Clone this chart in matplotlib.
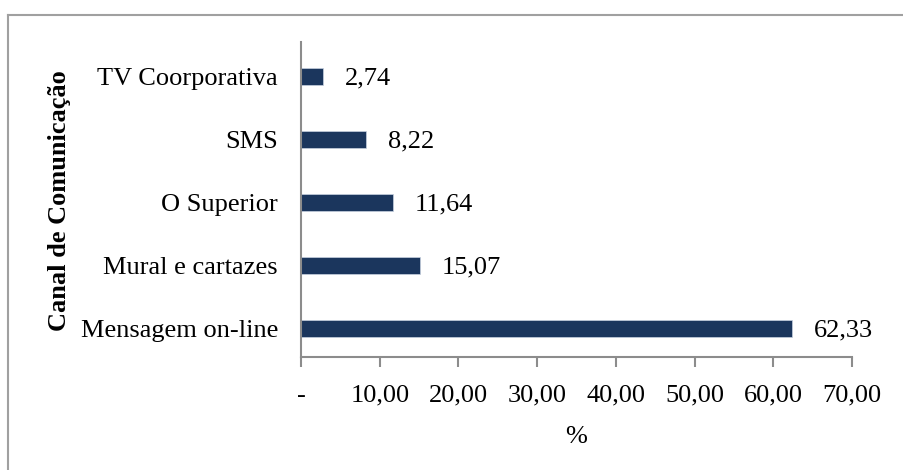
import matplotlib.pyplot as plt
from matplotlib.lines import Line2D
from matplotlib.ticker import FuncFormatter

plt.rcParams['font.family'] = ['Liberation Serif', 'DejaVu Serif']

# dados
canais = ['Mensagem on-line', 'Mural e cartazes', 'O Superior', 'SMS', 'TV Coorporativa']
valores = [62.33, 15.07, 11.64, 8.22, 2.74]
ticks_x = [0, 10, 20, 30, 40, 50, 60, 70]

cor_barra = '#1B365D'
cinza = '#8C8C8C'
fs = 19

fig = plt.figure(figsize=(9.04, 4.70), dpi=100)
ax = fig.add_axes([0.333, 0.2404, 0.6095, 0.6702])

pos = range(len(canais))
ax.barh(pos, valores, height=0.27, color=cor_barra, edgecolor='#C8D2E0', linewidth=0.5)

for p, v in zip(pos, valores):
    ax.annotate(f'{v:.2f}'.replace('.', ','), (v, p), xytext=(16, -2),
                textcoords='offset points', ha='left', va='center', fontsize=fs)

ax.set_xlim(0, 70)
ax.set_ylim(-0.46, len(canais) - 0.46)
ax.set_xticks(ticks_x)
ax.xaxis.set_major_formatter(FuncFormatter(
    lambda x, _: '-' if x == 0 else f'{x:.2f}'.replace('.', ',')))
ax.set_yticks(list(pos))
ax.set_yticklabels(canais)

for s in ['top', 'right']:
    ax.spines[s].set_visible(False)
for s in ['left', 'bottom']:
    ax.spines[s].set_color(cinza)
    ax.spines[s].set_linewidth(1.5)

ax.tick_params(axis='y', length=0, pad=16.5, labelsize=fs)
ax.tick_params(axis='x', direction='out', length=7, width=1.5, color=cinza,
               pad=13, labelsize=fs)

ax.set_xlabel('%', fontsize=fs, labelpad=14)
fig.text(0.066, 0.574, 'Canal de Comunicação', rotation=90, ha='center', va='center',
         fontsize=fs, fontweight='bold')

# moldura
fig.add_artist(Line2D([8/904, 1], [1 - 15/470] * 2, color='#A0A0A0', lw=1.5))
fig.add_artist(Line2D([8/904] * 2, [0, 1 - 15/470], color='#A0A0A0', lw=1.5))

plt.savefig('out.png', dpi=100)
plt.close()
